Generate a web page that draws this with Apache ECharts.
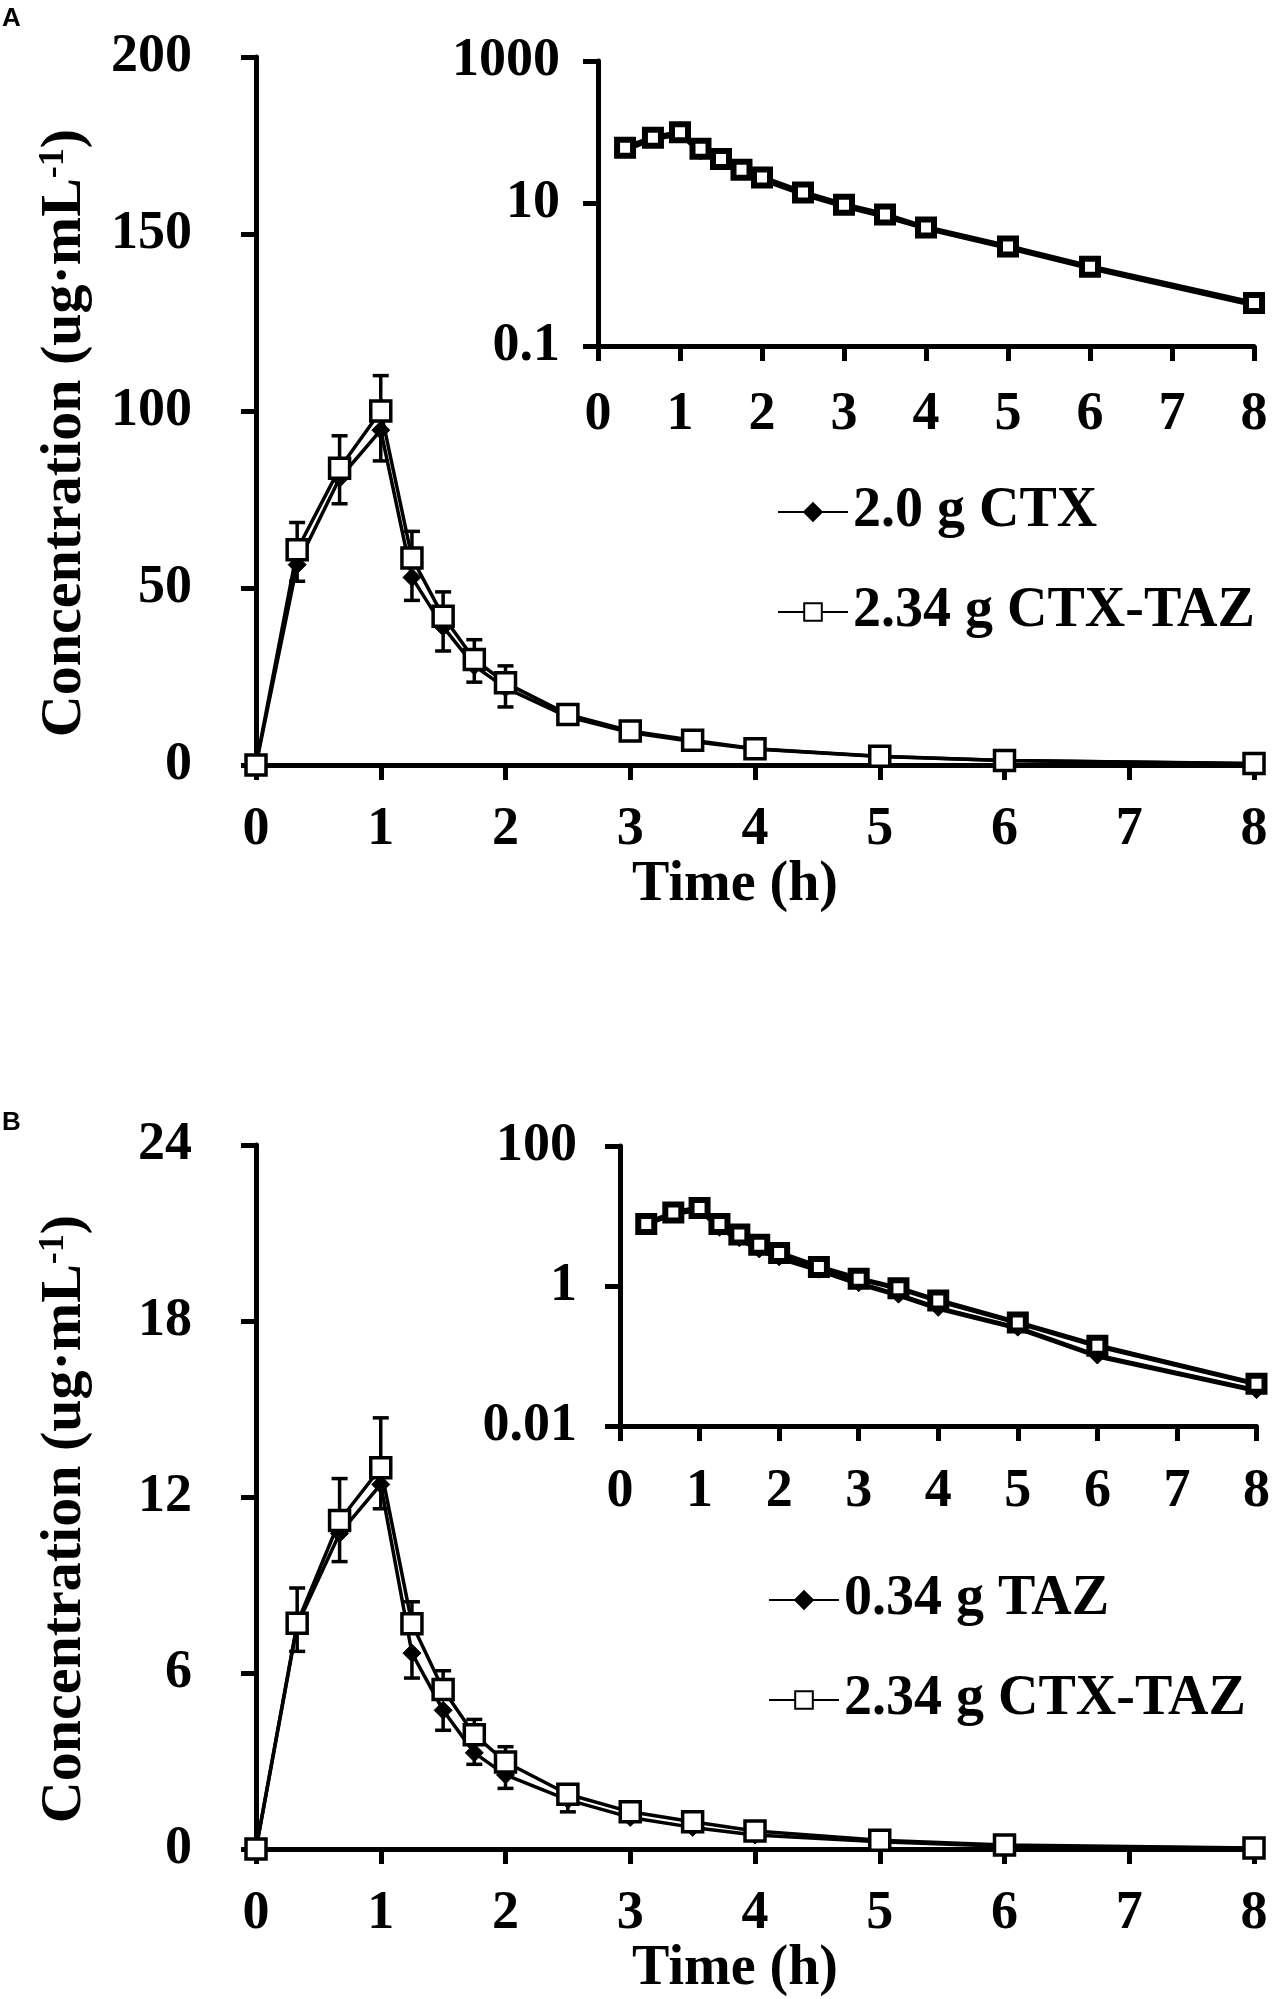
<!DOCTYPE html>
<html>
<head>
<meta charset="utf-8">
<title>CTX / TAZ concentration-time curves</title>
<script src="https://cdn.jsdelivr.net/npm/echarts@6/dist/echarts.min.js"></script>
<style>
  html, body { margin: 0; padding: 0; background: #fff; }
  #main { width: 1273px; height: 1999px; }
</style>
</head>
<body>
<div id="main"></div>
<script>
// sampling times (h)
var times = [0, 0.33, 0.67, 1, 1.25, 1.5, 1.75, 2, 2.5, 3, 3.5, 4, 5, 6, 8];

// panel A : cefotaxime
var ctxMean   = [0, 56.6, 81.0, 94.6, 53.0, 39.0, 28.0, 21.8, 13.6, 9.2, 6.6, 4.5, 2.4, 1.25, 0.38];
var ctxSd     = [0, 4.7, 7.2, 8.7, 6.5, 6.8, 4.6, 5.4, 1.5, 1.0, 0.8, 0.6, 0.3, 0.15, 0.05];
var ctxTazA   = [0, 60.8, 83.8, 100.0, 58.5, 42.0, 29.8, 23.2, 14.3, 9.6, 7.0, 4.6, 2.5, 1.3, 0.4];
var ctxTazASd = [0, 7.7, 9.2, 10.0, 7.5, 6.9, 5.6, 4.8, 1.5, 1.0, 0.8, 0.6, 0.3, 0.15, 0.05];

// panel B : tazobactam
var tazMean   = [0, 7.64, 10.76, 12.43, 6.68, 4.73, 3.28, 2.53, 1.68, 1.08, 0.74, 0.48, 0.25, 0.10, 0.032];
var tazSd     = [0, 0.9, 0.96, 0.83, 0.85, 0.68, 0.39, 0.46, 0.41, 0.1, 0.08, 0.06, 0.03, 0.01, 0.005];
var ctxTazB   = [0, 7.7, 11.2, 13.0, 7.68, 5.44, 3.9, 2.97, 1.87, 1.27, 0.93, 0.62, 0.30, 0.14, 0.04];
var ctxTazBSd = [0, 1.2, 1.43, 1.7, 0.75, 0.64, 0.52, 0.52, 0.15, 0.1, 0.08, 0.05, 0.03, 0.01, 0.005];

var namesA = ['2.0 g CTX', '2.34 g CTX-TAZ'];
var namesB = ['0.34 g TAZ', '2.34 g CTX-TAZ'];
var yTicksA = [0, 200, 50];
var yTicksB = [0, 24, 6];

var FONT = 'Liberation Serif';

function pairs(vals, from) {
    var out = [];
    for (var i = from || 0; i < times.length; i++) out.push([times[i], vals[i]]);
    return out;
}

function axisCommon(extra) {
    var o = {
        axisLine: { lineStyle: { color: '#000', width: 5 } },
        axisTick: { show: true, length: 15, lineStyle: { color: '#000', width: 5 } },
        splitLine: { show: false },
        axisLabel: { color: '#000', fontFamily: FONT, fontWeight: 'bold', fontSize: 54 }
    };
    for (var k in extra) {
        if (k === 'axisLabel') {
            for (var j in extra.axisLabel) o.axisLabel[j] = extra.axisLabel[j];
        } else {
            o[k] = extra[k];
        }
    }
    return o;
}

function logLabel(v) {
    return String(+v.toPrecision(6));
}

var yName = '{t|Concentration (ug·mL}{s|-1}{t|)}';
function yNameStyle() {
    return {
        color: '#000', fontFamily: FONT, fontWeight: 'bold', fontSize: 58,
        padding: [0, 44, 0, 0],
        rich: {
            t: { fontFamily: FONT, fontWeight: 'bold', fontSize: 58, color: '#000' },
            s: { fontFamily: FONT, fontWeight: 'bold', fontSize: 36, color: '#000', verticalAlign: 'top' }
        }
    };
}

function lineSeries(name, xi, yi, data, square, big) {
    var bw = big ? 3.5 : 6;
    return {
        name: name,
        type: 'line',
        xAxisIndex: xi,
        yAxisIndex: yi,
        data: data,
        symbol: square ? 'rect' : 'diamond',
        symbolSize: big ? (square ? 20 : 18) : (square ? 16 : 16),
        showAllSymbol: true,
        z: square ? 4 : 3,
        lineStyle: { color: '#000', width: big ? 3.5 : 5 },
        itemStyle: square
            ? { color: '#fff', borderColor: '#000', borderWidth: bw }
            : { color: '#000', borderColor: '#000', borderWidth: 1 },
        emphasis: { disabled: true },
        animation: false
    };
}

// error bars: dir = 1 upward, -1 downward
function errorBars(xi, yi, vals, sds, dir) {
    var data = [];
    for (var i = 0; i < times.length; i++) {
        if (sds[i] > 0) data.push([times[i], vals[i], vals[i] + dir * sds[i]]);
    }
    return {
        type: 'custom',
        xAxisIndex: xi,
        yAxisIndex: yi,
        silent: true,
        z: 2,
        encode: { x: 0, y: [1, 2] },
        data: data,
        renderItem: function (params, api) {
            var p0 = api.coord([api.value(0), api.value(1)]);
            var p1 = api.coord([api.value(0), api.value(2)]);
            var hw = 8;
            var st = { stroke: '#000', lineWidth: 3.5 };
            return {
                type: 'group',
                children: [
                    { type: 'line', shape: { x1: p0[0], y1: p0[1], x2: p1[0], y2: p1[1] }, style: st },
                    { type: 'line', shape: { x1: p1[0] - hw, y1: p1[1], x2: p1[0] + hw, y2: p1[1] }, style: st }
                ]
            };
        },
        animation: false
    };
}

function legendFor(names, left, top) {
    return {
        data: names,
        orient: 'vertical',
        left: left,
        top: top,
        itemWidth: 70,
        itemHeight: 22,
        itemGap: 44,
        selectedMode: false,
        textStyle: { color: '#000', fontFamily: FONT, fontWeight: 'bold', fontSize: 56, lineHeight: 56 }
    };
}

var xMain = function (gi, gap) {
    return axisCommon({
        type: 'value', gridIndex: gi, min: 0, max: 8, interval: 1,
        name: 'Time (h)', nameLocation: 'middle', nameGap: gap,
        nameTextStyle: { color: '#000', fontFamily: FONT, fontWeight: 'bold', fontSize: 56, padding: [0, 40, 0, 0] },
        axisLabel: { margin: 38 }
    });
};
var xInset = function (gi, margin) {
    return axisCommon({
        type: 'value', gridIndex: gi, min: 0, max: 8, interval: 1,
        axisLabel: { margin: margin }
    });
};

var myChart = echarts.init(document.getElementById('main'));

var option = {
    backgroundColor: '#fff',
    animation: false,
    graphic: [
        { type: 'text', left: 2, top: 6, style: { text: 'A', font: 'bold 26px "Liberation Sans"', fill: '#000' } },
        { type: 'text', left: 2, top: 1110, style: { text: 'B', font: 'bold 26px "Liberation Sans"', fill: '#000' } }
    ],
    legend: [
        legendFor(namesA, 772, 479),
        legendFor(namesB, 763, 1567)
    ],
    grid: [
        { left: 256, top: 57, width: 998, height: 708 },
        { left: 598, top: 61, width: 656, height: 285 },
        { left: 256, top: 1145, width: 998, height: 708 },
        { left: 620, top: 1146, width: 638, height: 280 }
    ],
    xAxis: [
        xMain(0, 85),
        xInset(1, 42),
        xMain(2, 87),
        xInset(3, 39)
    ],
    yAxis: [
        axisCommon({
            type: 'value', gridIndex: 0, min: yTicksA[0], max: yTicksA[1], interval: yTicksA[2],
            name: yName, nameLocation: 'middle', nameGap: 162,
            nameTextStyle: yNameStyle(),
            axisLabel: { margin: 64 }
        }),
        axisCommon({
            type: 'log', logBase: 10, gridIndex: 1, min: 0.1, max: 1000, interval: 2,
            axisLabel: { margin: 38, formatter: logLabel }
        }),
        axisCommon({
            type: 'value', gridIndex: 2, min: yTicksB[0], max: yTicksB[1], interval: yTicksB[2],
            name: yName, nameLocation: 'middle', nameGap: 162,
            nameTextStyle: yNameStyle(),
            axisLabel: { margin: 64 }
        }),
        axisCommon({
            type: 'log', logBase: 10, gridIndex: 3, min: 0.01, max: 100, interval: 2,
            axisLabel: { margin: 43, formatter: logLabel }
        })
    ],
    series: [
        // panel A main
        errorBars(0, 0, ctxMean, ctxSd, -1),
        errorBars(0, 0, ctxTazA, ctxTazASd, 1),
        lineSeries(namesA[0], 0, 0, pairs(ctxMean), false, true),
        lineSeries(namesA[1], 0, 0, pairs(ctxTazA), true, true),
        // panel A inset (log)
        lineSeries(namesA[0], 1, 1, pairs(ctxMean, 1), false, false),
        lineSeries(namesA[1], 1, 1, pairs(ctxTazA, 1), true, false),
        // panel B main
        errorBars(2, 2, tazMean, tazSd, -1),
        errorBars(2, 2, ctxTazB, ctxTazBSd, 1),
        lineSeries(namesB[0], 2, 2, pairs(tazMean), false, true),
        lineSeries(namesB[1], 2, 2, pairs(ctxTazB), true, true),
        // panel B inset (log)
        lineSeries(namesB[0], 3, 3, pairs(tazMean, 1), false, false),
        lineSeries(namesB[1], 3, 3, pairs(ctxTazB, 1), true, false)
    ]
};

myChart.setOption(option);
</script>
</body>
</html>
